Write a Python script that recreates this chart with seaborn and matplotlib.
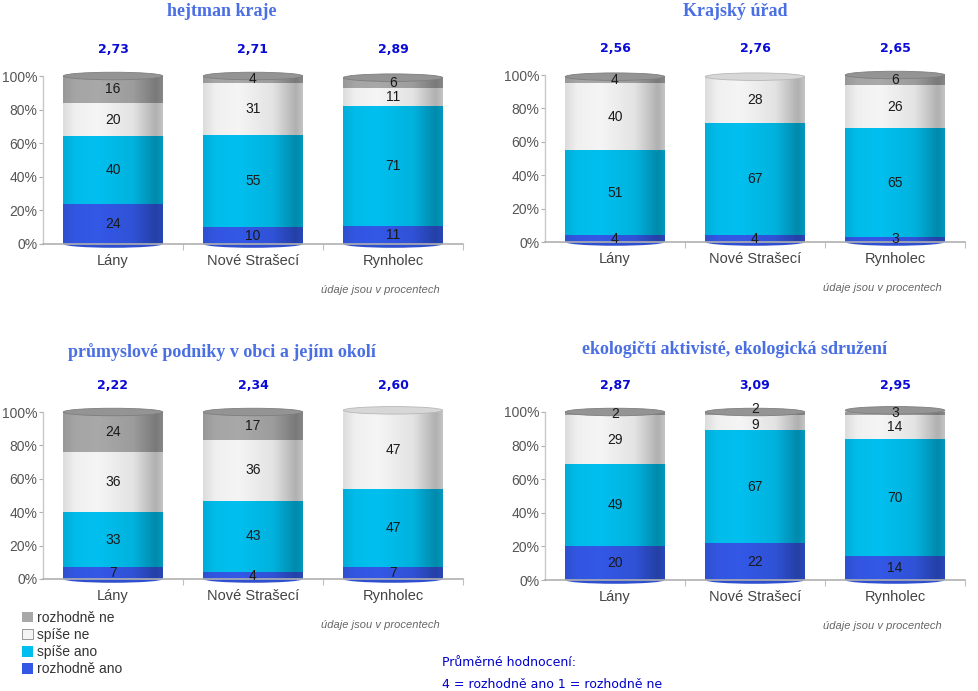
import numpy as np
import pandas as pd
import seaborn as sns
import matplotlib.pyplot as plt
from matplotlib.patches import Ellipse, Patch
from matplotlib.colors import to_rgb

sns.set_theme(style="white")
plt.rcParams['font.family'] = ['Liberation Sans', 'DejaVu Sans']

towns = ['Lány', 'Nové Strašecí', 'Rynholec']
answers = ['rozhodně ano', 'spíše ano', 'spíše ne', 'rozhodně ne']
colors = {'rozhodně ano': '#3358e6', 'spíše ano': '#00bfee',
          'spíše ne': '#f4f4f4', 'rozhodně ne': '#a8a8a8'}

titles = ['hejtman kraje', 'Krajský úřad',
          'průmyslové podniky v obci a jejím okolí',
          'ekologičtí aktivisté, ekologická sdružení']

# values per answer (rozhodně ano, spíše ano, spíše ne, rozhodně ne) for Lány / Nové Strašecí / Rynholec
hejtman = [[24, 10, 11], [40, 55, 71], [20, 31, 11], [16, 4, 6]]
krajsky_urad = [[4, 4, 3], [51, 67, 65], [40, 28, 26], [4, 0, 6]]
podniky = [[7, 4, 7], [33, 43, 47], [36, 36, 47], [24, 17, 0]]
ekologove = [[20, 22, 14], [49, 67, 70], [29, 9, 14], [2, 2, 3]]

means_hejtman = ['2,73', '2,71', '2,89']
means_urad = ['2,56', '2,76', '2,65']
means_podniky = ['2,22', '2,34', '2,60']
means_ekologove = ['2,87', '3,09', '2,95']

panels = [hejtman, krajsky_urad, podniky, ekologove]
means = [means_hejtman, means_urad, means_podniky, means_ekologove]

W, H = 979, 691
fig = plt.figure(figsize=(W / 100, H / 100), dpi=100)

# axes boxes in pixels: left, y of 0 %, y of 100 %
boxes = [(43, 244, 76), (545, 242, 75), (43, 579, 412), (545, 580, 412)]
title_pos = [(222, 12), (735, 12), (222, 352), (735, 350)]
bar_w = 0.71


def shade(c, f):
    r, g, b = to_rgb(c)
    return (r * f, g * f, b * f)


# horizontal shading for cylinders
prof = np.linspace(0, 1, 256)
alpha = np.interp(prof, [0, 0.12, 0.35, 0.7, 0.93, 1], [0.10, 0.02, 0.0, 0.07, 0.28, 0.2])
grad = np.zeros((1, 256, 4))
grad[0, :, 3] = alpha

for k, vals in enumerate(panels):
    left, y0, y100 = boxes[k]
    ax = fig.add_axes([left / W, 1 - y0 / H, 420 / W, (y0 - y100) / H])

    rows = []
    for i, town in enumerate(towns):
        cum = 0
        for j, ans in enumerate(answers):
            v = vals[j][i]
            rows.append(dict(town=town, answer=ans, value=v, bottom=cum, top=cum + v))
            cum += v
    df = pd.DataFrame(rows)

    full = None
    for ans in answers[::-1]:
        sub = df[df.answer == ans]
        n0 = len(ax.patches)
        sns.barplot(data=sub, x='town', y='top', order=towns, color=colors[ans],
                    width=bar_w, errorbar=None, saturation=1, edgecolor='none',
                    linewidth=0, ax=ax)
        if full is None:
            full = ax.patches[n0:]

    for i, town in enumerate(towns):
        sub = df[(df.town == town) & (df.value > 0)]
        p = full[i]
        x0 = p.get_x()
        top = sub.top.max()
        im = ax.imshow(grad, extent=[x0, x0 + bar_w, 0, top], aspect='auto', zorder=2)
        im.set_clip_path(p)
        top_ans = sub.answer.iloc[-1]
        bot_ans = sub.answer.iloc[0]
        ax.add_patch(Ellipse((i, top), bar_w, 4.5, facecolor=shade(colors[top_ans], 0.88),
                             edgecolor=shade(colors[top_ans], 0.75), lw=0.6, zorder=2.5, clip_on=False))
        ax.add_patch(Ellipse((i, 0), bar_w, 4.5, facecolor=shade(colors[bot_ans], 0.9),
                             edgecolor='none', zorder=0.9, clip_on=False))
        labels = list(sub.itertuples())
        for n, r in enumerate(labels):
            ypos = (r.bottom + r.top) / 2
            # tiny top segments: push the label onto the cap, the one below a bit down
            if n == len(labels) - 1 and r.value < 4 and labels[n - 1].value < 12:
                ypos = r.top + 1.5
            elif n == len(labels) - 2 and labels[-1].value < 4 and r.value < 12:
                ypos -= 1
            ax.text(i, ypos, str(r.value), ha='center', va='center',
                    fontsize=10, color='#1a1a1a', zorder=3, clip_on=False)
        ax.text(i, 116, means[k][i], ha='center', va='center', fontsize=9,
                fontweight='bold', color='#0a0ad8', family='DejaVu Sans', clip_on=False)

    ax.set_xlim(-0.5, 2.5)
    ax.set_ylim(0, 100)
    ax.set_yticks([0, 20, 40, 60, 80, 100])
    ax.set_yticklabels([f'{t}%' for t in [0, 20, 40, 60, 80, 100]])
    ax.set_xlabel('')
    ax.set_ylabel('')
    ax.set_xticks([0.5, 1.5, 2.5], minor=True)
    ax.tick_params(axis='y', which='major', length=3, width=0.8, color='#b0b0b0',
                   labelsize=10, labelcolor='#555555', pad=1, left=True)
    ax.tick_params(axis='x', which='major', length=0, labelsize=10.5,
                   labelcolor='#444444', pad=7)
    ax.tick_params(axis='x', which='minor', length=4, width=0.8, color='#c0c0c0', bottom=True)
    for s in ['top', 'right']:
        ax.spines[s].set_visible(False)
    ax.spines['left'].set_color('#c8c8c8')
    ax.spines['bottom'].set_color('#b0b0b0')
    ax.spines['left'].set_linewidth(1)
    ax.spines['bottom'].set_linewidth(1.2)
    ax.set_facecolor('white')
    ax.text(0.945, -0.275, 'údaje jsou v procentech', transform=ax.transAxes, ha='right',
            va='center', fontsize=8, style='italic', color='#666666')

    tx, ty = title_pos[k]
    fig.text(tx / W, 1 - ty / H, titles[k], ha='center', va='center', fontsize=13,
             fontweight='bold', color='#4a6fe3', family='Liberation Serif')

handles = [Patch(facecolor=colors[a], edgecolor='#888888' if a == 'spíše ne' else 'none', lw=0.6)
           for a in answers[::-1]]
fig.legend(handles, answers[::-1], loc='upper left', bbox_to_anchor=(15 / W, 1 - 604 / H),
           frameon=False, fontsize=10, handlelength=0.8, handleheight=0.8,
           handletextpad=0.3, labelspacing=0.22, labelcolor='#333333', borderpad=0)

fig.text(442 / W, 1 - 662 / H, 'Průměrné hodnocení:', ha='left', va='center',
         fontsize=9, color='#0000cc', family='DejaVu Sans')
fig.text(442 / W, 1 - 684 / H, '4 = rozhodně ano 1 = rozhodně ne', ha='left', va='center',
         fontsize=9, color='#0000cc', family='DejaVu Sans')

fig.savefig('out.png', dpi=100, facecolor='white')
